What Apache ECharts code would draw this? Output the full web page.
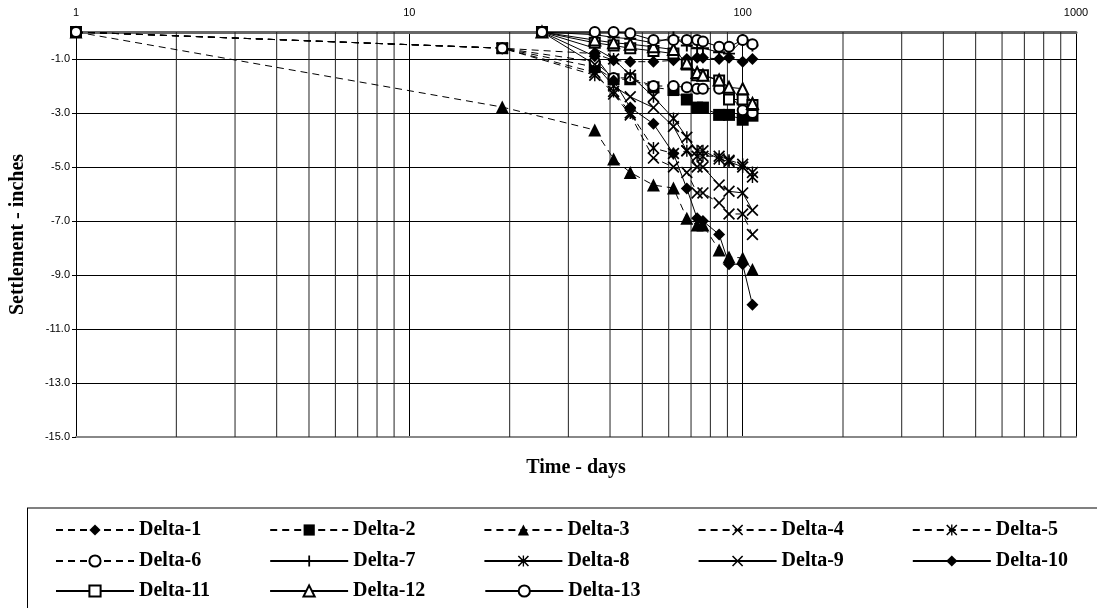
<!DOCTYPE html>
<html style="height: 100%">

<head>
    <meta charset="utf-8">
    <title>Settlement vs time</title>
    <script type="text/javascript" src="https://cdn.jsdelivr.net/npm/echarts@6/dist/echarts.min.js"></script>
</head>

<body style="height: 100%; margin: 0; background: #fff">
    <div id="container" style="width: 1097px; height: 608px"></div>

    <script type="text/javascript">
        // time (days) of readings: dashed series start at day 1, solid series at day 25
        var daysDashed = [1, 19, 36, 41, 46, 54, 62, 68, 73, 76, 85, 91, 100, 107];
        var daysSolid = [25, 36, 41, 46, 54, 62, 68, 73, 76, 85, 91, 100, 107];

        // settlement (inches)
        var delta1 = [0, -0.6, -0.8, -1.05, -1.1, -1.1, -1.05, -1.0, -0.95, -0.95, -1.0, -0.95, -1.1, -1.0];
        var delta2 = [0, -0.6, -1.3, -1.75, -1.75, -2.05, -2.15, -2.5, -2.8, -2.8, -3.07, -3.07, -3.25, -3.1];
        var delta3 = [0, -2.78, -3.63, -4.7, -5.2, -5.67, -5.78, -6.9, -7.15, -7.15, -8.07, -8.33, -8.37, -8.8];
        var delta4 = [0, -0.6, -1.5, -2.3, -3.07, -4.67, -5.0, -5.2, -5.96, -5.96, -6.33, -6.74, -6.74, -7.5];
        var delta5 = [0, -0.6, -1.6, -2.2, -3.0, -4.3, -4.5, -4.4, -4.6, -4.6, -4.6, -4.75, -4.9, -5.2];
        var delta6 = [0, -0.6, -1.1, -1.7, -1.7, -2.0, -2.0, -2.05, -2.1, -2.1, -2.1, -2.3, -2.9, -3.0];
        var delta7 = [0, -0.1, -0.2, -0.25, -0.4, -0.2, -0.5, -0.6, -0.6, -0.75, -0.8, -0.3, -0.5];
        var delta8 = [0, -0.6, -1.0, -1.6, -2.4, -3.2, -3.9, -4.4, -4.4, -4.7, -4.8, -5.0, -5.37];
        var delta9 = [0, -1.2, -2.0, -2.4, -2.8, -3.5, -4.4, -5.0, -5.0, -5.67, -5.9, -5.96, -6.6];
        var delta10 = [0, -0.9, -1.8, -2.8, -3.4, -4.5, -5.8, -6.9, -7.0, -7.5, -8.6, -8.6, -10.1];
        var delta11 = [0, -0.4, -0.5, -0.6, -0.7, -0.8, -1.2, -1.6, -1.6, -1.8, -2.5, -2.5, -2.7];
        var delta12 = [0, -0.3, -0.4, -0.45, -0.55, -0.65, -1.15, -1.5, -1.6, -1.78, -2.05, -2.1, -2.65];
        var delta13 = [0, 0, 0, -0.05, -0.3, -0.3, -0.3, -0.3, -0.35, -0.55, -0.55, -0.3, -0.45];

        // minor vertical grid lines of the log axis
        var minorDays = [2, 3, 4, 5, 6, 7, 8, 9, 20, 30, 40, 50, 60, 70, 80, 90, 200, 300, 400, 500, 600, 700, 800, 900];

        // marker shapes
        var xShape = 'path://M0,1L1,0L5,4L9,0L10,1L6,5L10,9L9,10L5,6L1,10L0,9L4,5Z';
        var plusShape = 'path://M4.2,0H5.8V4.2H10V5.8H5.8V10H4.2V5.8H0V4.2H4.2Z';
        var starShape = 'path://M0,1L1,0L5,4L9,0L10,1L6,5L10,9L9,10L5,6L1,10L0,9L4,5Z M4.4,0H5.6V10H4.4Z';

        var serif = 'Liberation Serif';
        var sans = 'Liberation Sans';

        function pairs(days, vals) {
            var out = [];
            for (var i = 0; i < days.length; i++) {
                out.push([days[i], vals[i]]);
            }
            return out;
        }

        function gridData() {
            var out = [];
            for (var i = 0; i < minorDays.length; i++) {
                out.push([minorDays[i], 0]);
                out.push([minorDays[i], -15]);
                out.push(null);
            }
            return out;
        }

        function makeSeries(name, days, vals, symbol, size, dashed, empty) {
            return {
                name: name,
                type: 'line',
                data: pairs(days, vals),
                symbol: symbol,
                symbolSize: size,
                showAllSymbol: true,
                lineStyle: { color: '#000', width: 1, type: dashed ? [7, 5] : 'solid' },
                itemStyle: { color: '#000', borderColor: '#000', borderWidth: empty ? 2 : 0 },
                z: 3
            };
        }

        // gap chosen so that every column is about 214px wide
        function makeLegend(names, top, gap) {
            return {
                data: names,
                orient: 'horizontal',
                left: 55,
                top: top,
                padding: 0,
                itemWidth: 78,
                itemHeight: 14,
                itemGap: gap,
                selectedMode: false,
                textStyle: { fontFamily: serif, fontWeight: 'bold', fontSize: 20, color: '#000' }
            };
        }

        var dom = document.getElementById('container');
        var myChart = echarts.init(dom, null, { renderer: 'canvas' });

        var option = {
            animation: false,
            backgroundColor: '#fff',
            grid: {
                left: 73,
                right: 21,
                top: 32,
                bottom: 171,
                containLabel: false
            },
            legend: [
                makeLegend(['Delta-1', 'Delta-2', 'Delta-3', 'Delta-4', 'Delta-5'], 520, 68),
                makeLegend(['Delta-6', 'Delta-7', 'Delta-8', 'Delta-9', 'Delta-10'], 551, 68),
                makeLegend(['Delta-11', 'Delta-12', 'Delta-13'], 581, 59)
            ],
            // box round the legend
            graphic: [
                {
                    type: 'line',
                    shape: { x1: 27, y1: 508, x2: 1097, y2: 508 },
                    style: { stroke: '#808080', lineWidth: 2 }
                },
                {
                    type: 'line',
                    shape: { x1: 27.5, y1: 508, x2: 27.5, y2: 608 },
                    style: { stroke: '#000', lineWidth: 1 }
                }
            ],
            xAxis: [
                {
                    type: 'log',
                    logBase: 10,
                    min: 1,
                    max: 1000,
                    position: 'top',
                    axisLine: { lineStyle: { color: '#666', width: 3 } },
                    axisTick: { show: false },
                    axisLabel: {
                        color: '#000',
                        fontFamily: sans,
                        fontSize: 11,
                        margin: 14,
                        formatter: function (v) {
                            return String(v);
                        }
                    },
                    splitLine: { show: true, lineStyle: { color: '#000', width: 1 } }
                },
                {
                    type: 'log',
                    logBase: 10,
                    min: 1,
                    max: 1000,
                    position: 'bottom',
                    name: 'Time - days',
                    nameLocation: 'middle',
                    nameGap: 21,
                    nameTextStyle: { fontFamily: serif, fontWeight: 'bold', fontSize: 20, color: '#000' },
                    axisLine: { lineStyle: { color: '#888', width: 2 } },
                    axisTick: { show: false },
                    axisLabel: { show: false },
                    splitLine: { show: false }
                }
            ],
            yAxis: {
                type: 'value',
                min: -15,
                max: 0,
                interval: 2,
                name: 'Settlement - inches',
                nameLocation: 'middle',
                nameGap: 48,
                nameTextStyle: { fontFamily: serif, fontWeight: 'bold', fontSize: 20, color: '#000' },
                axisLine: { show: true, lineStyle: { color: '#000', width: 1 } },
                axisTick: { show: true, length: 4, lineStyle: { color: '#000' } },
                axisLabel: {
                    color: '#000',
                    fontFamily: sans,
                    fontSize: 11,
                    margin: 6,
                    formatter: function (v) {
                        return v === 0 ? '' : v.toFixed(1);
                    }
                },
                splitLine: { show: true, lineStyle: { color: '#000', width: 1 } }
            },
            series: [
                {
                    name: 'grid',
                    type: 'line',
                    data: gridData(),
                    symbol: 'none',
                    silent: true,
                    connectNulls: false,
                    lineStyle: { color: '#222', width: 1 },
                    z: 1
                },
                makeSeries('Delta-1', daysDashed, delta1, 'diamond', 12, true, false),
                makeSeries('Delta-2', daysDashed, delta2, 'rect', 12, true, false),
                makeSeries('Delta-3', daysDashed, delta3, 'triangle', 13, true, false),
                makeSeries('Delta-4', daysDashed, delta4, xShape, 12, true, false),
                makeSeries('Delta-5', daysDashed, delta5, starShape, 12, true, false),
                makeSeries('Delta-6', daysDashed, delta6, 'emptyCircle', 10, true, true),
                makeSeries('Delta-7', daysSolid, delta7, plusShape, 12, false, false),
                makeSeries('Delta-8', daysSolid, delta8, starShape, 12, false, false),
                makeSeries('Delta-9', daysSolid, delta9, xShape, 12, false, false),
                makeSeries('Delta-10', daysSolid, delta10, 'diamond', 12, false, false),
                makeSeries('Delta-11', daysSolid, delta11, 'emptyRect', 10, false, true),
                makeSeries('Delta-12', daysSolid, delta12, 'emptyTriangle', 11, false, true),
                makeSeries('Delta-13', daysSolid, delta13, 'emptyCircle', 10, false, true)
            ]
        };

        myChart.setOption(option, true);
    </script>
</body>

</html>
